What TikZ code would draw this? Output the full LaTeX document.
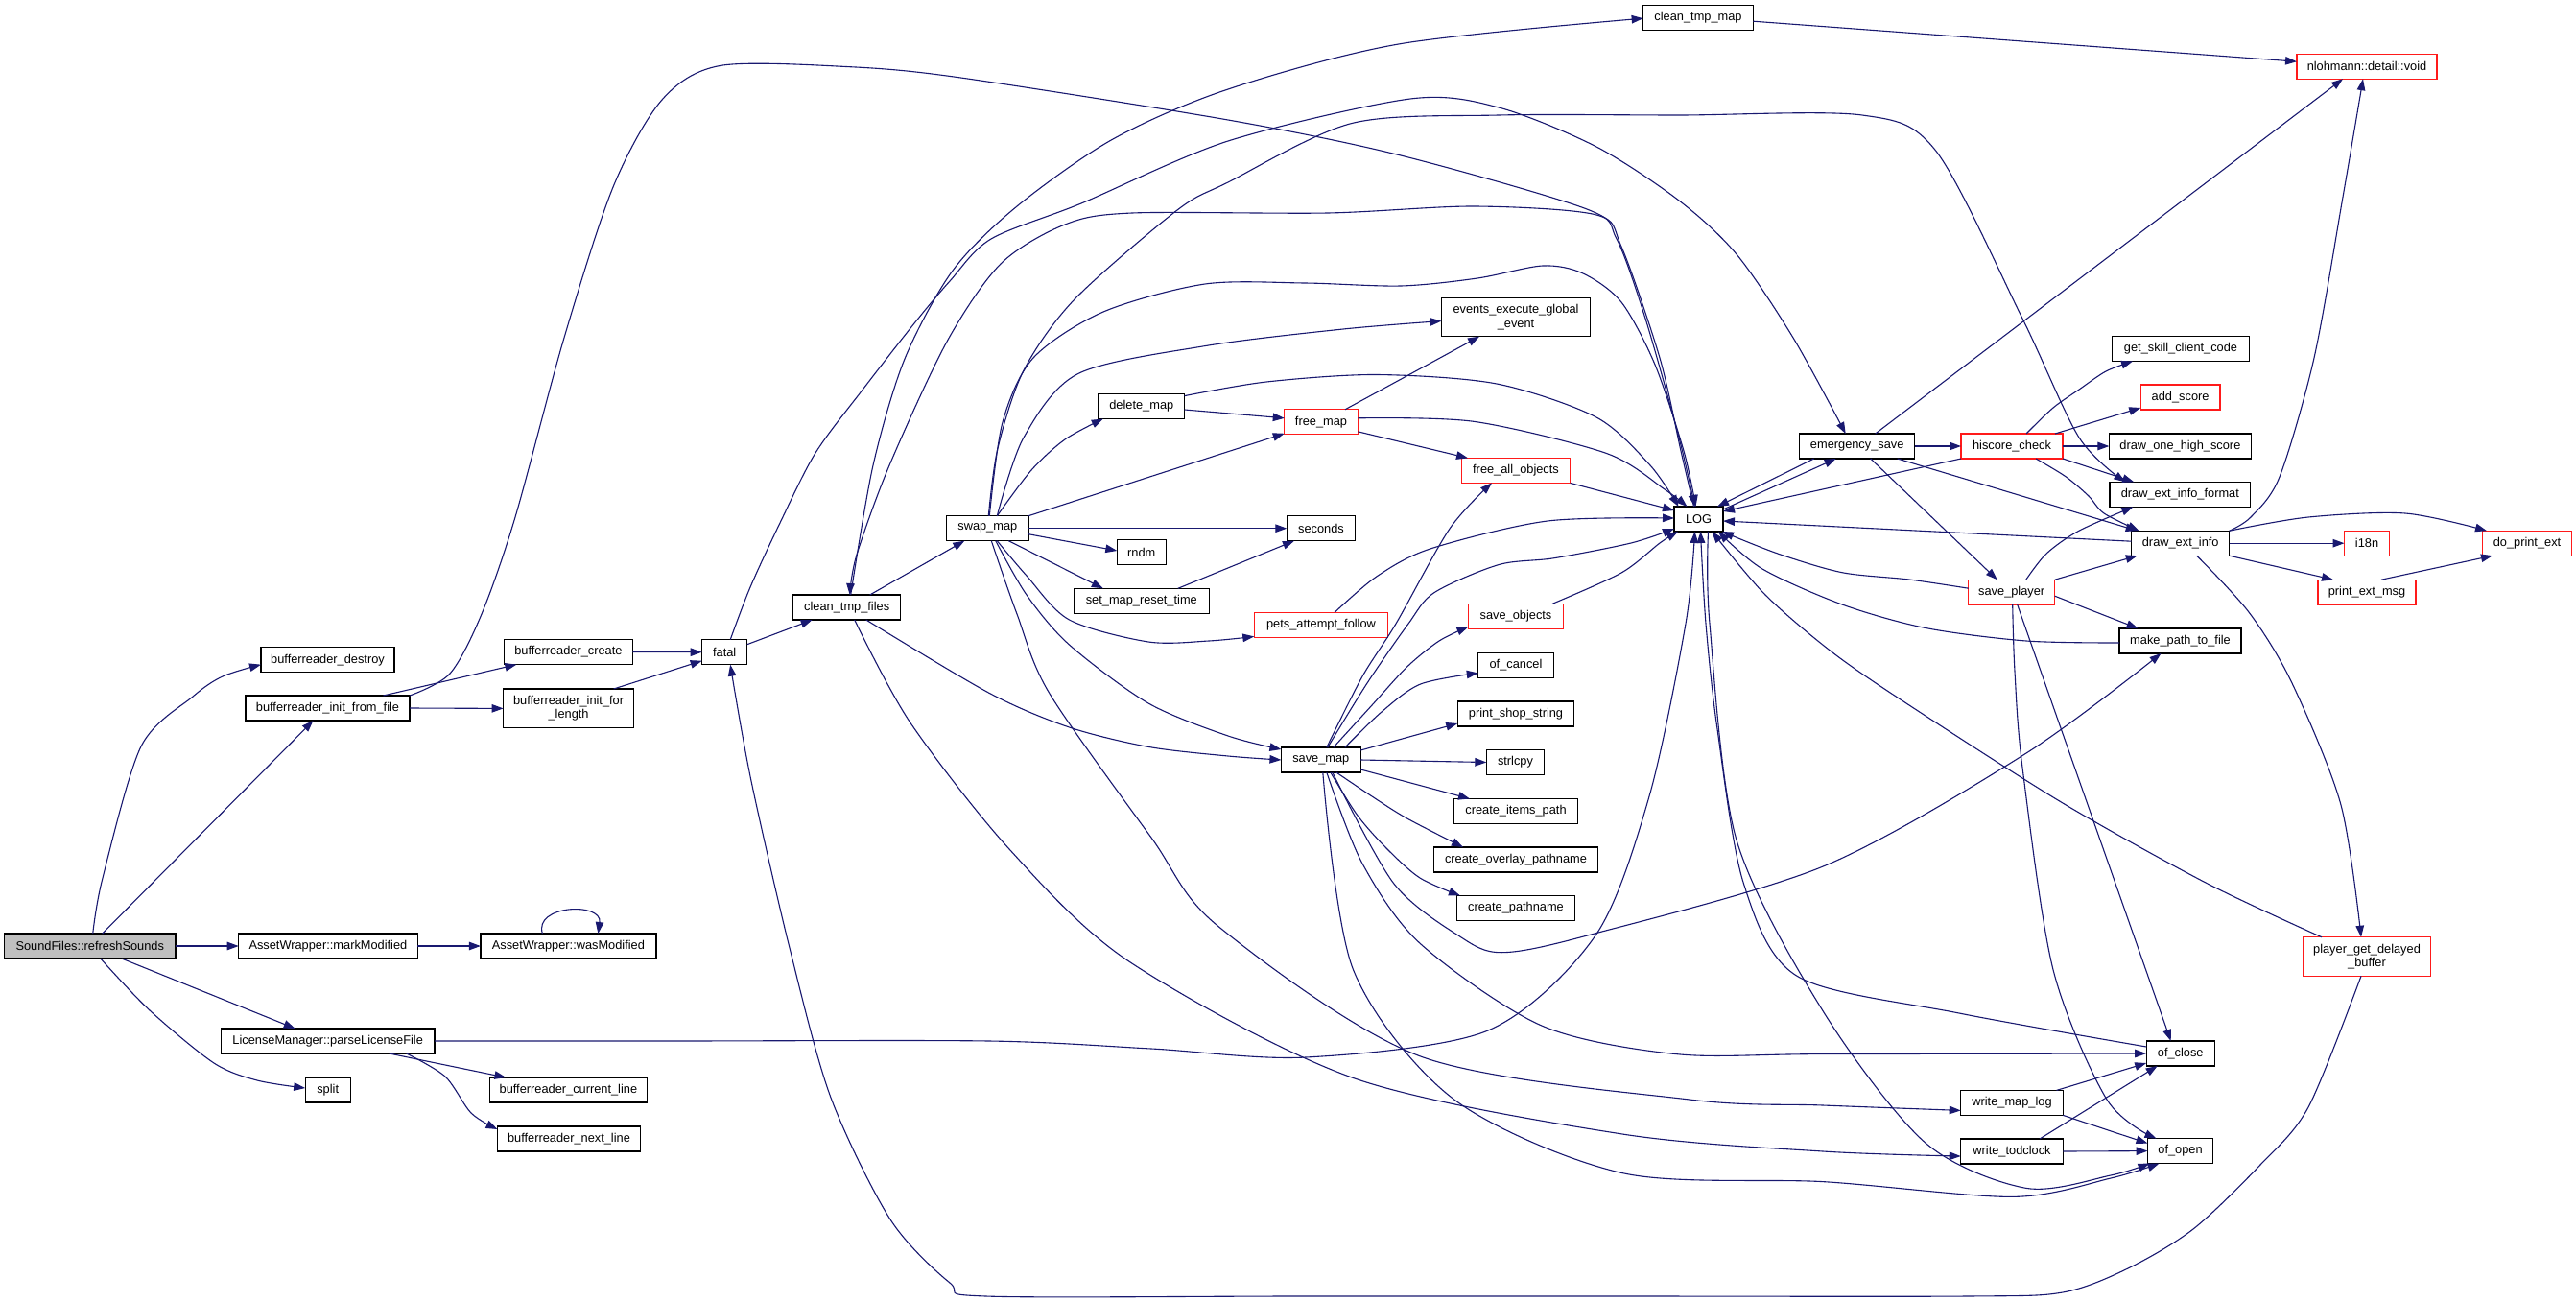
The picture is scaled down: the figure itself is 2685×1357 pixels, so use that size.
\documentclass[tikz,border=0pt]{standalone}
\usepackage{fontspec}
\setmainfont{Liberation Sans}
\usetikzlibrary{arrows.meta}
\definecolor{edgec}{HTML}{191970}
\definecolor{redc}{HTML}{FF1A1A}
\definecolor{grayc}{HTML}{BFBFBF}
\tikzset{
  nb/.style={draw=black, fill=white, line width=1.2pt, minimum height=26, inner sep=0pt, outer sep=0pt,
    font=\fontsize{12.8}{14.5}\selectfont, align=center},
  nr/.style={nb, draw=redc},
  e/.style={draw=edgec, line width=1.1pt, -{Triangle[length=12pt,width=8.5pt]}},
}
\begin{document}
\begin{tikzpicture}[x=1pt,y=-1pt]
\fill[white] (0,0) rectangle (2685,1357);
\useasboundingbox (0,0) rectangle (2685,1357);
% nodes
\node[nb, fill=grayc, minimum width=178.5] (rs) at (93.75,986) {SoundFiles::refreshSounds};
\node[nb, minimum width=139] (bd) at (341.5,687.7) {bufferreader\_destroy};
\node[nb, minimum width=171] (bif) at (341.5,738) {bufferreader\_init\_from\_file};
\node[nb, minimum width=134] (bc) at (592.4,679.6) {bufferreader\_create};
\node[nb, minimum width=136, minimum height=40.8] (bifl) at (592.6,738.4) {bufferreader\_init\_for\\\_length};
\node[nb, minimum width=186.4] (mm) at (341.9,986) {AssetWrapper::markModified};
\node[nb, minimum width=183] (wm) at (592.4,986) {AssetWrapper::wasModified};
\node[nb, minimum width=222.6] (lm) at (341.7,1085) {LicenseManager::parseLicenseFile};
\node[nb, minimum width=47] (sp) at (341.7,1136) {split};
\node[nb, minimum width=164.5] (bcl) at (592.4,1136) {bufferreader\_current\_line};
\node[nb, minimum width=149] (bnl) at (593,1187) {bufferreader\_next\_line};
\node[nb, minimum width=47] (fatal) at (755.2,679.7) {fatal};
\node[nb, minimum width=112] (ctf) at (882.7,633) {clean\_tmp\_files};
\node[nb, minimum width=85.3] (swm) at (1029.3,550.7) {swap\_map};
\node[nb, minimum width=114.7] (ctm) at (1770,18.2) {clean\_tmp\_map};
\node[nb, minimum width=89.8] (dm) at (1189.8,423.6) {delete\_map};
\node[nr, minimum width=76.5] (fm) at (1377,439.8) {free\_map};
\node[nb, minimum width=155, minimum height=40.2] (eeg) at (1580,330.6) {events\_execute\_global\\\_event};
\node[nr, minimum width=113.2] (fao) at (1580,490.4) {free\_all\_objects};
\node[nb, minimum width=71.5] (sec) at (1377,550.7) {seconds};
\node[nb, minimum width=51] (rndm) at (1189.8,575.5) {rndm};
\node[nb, minimum width=140.8] (smrt) at (1189.8,626.3) {set\_map\_reset\_time};
\node[nr, minimum width=139.4] (paf) at (1377,651.4) {pets\_attempt\_follow};
\node[nr, minimum width=99] (so) at (1580,642.3) {save\_objects};
\node[nb, minimum width=51] (log) at (1770.5,541) {LOG};
\node[nb, minimum width=82.8] (smap) at (1376.8,792) {save\_map};
\node[nb, minimum width=78.5] (oc) at (1580,693.5) {of\_cancel};
\node[nb, minimum width=121.5] (pss) at (1580,744) {print\_shop\_string};
\node[nb, minimum width=60.4] (strl) at (1579.5,794.5) {strlcpy};
\node[nb, minimum width=128.3] (cip) at (1580,845.5) {create\_items\_path};
\node[nb, minimum width=170.4] (cop) at (1580,896) {create\_overlay\_pathname};
\node[nb, minimum width=122.7] (cp) at (1580,946.5) {create\_pathname};
\node[nb, minimum width=120] (es) at (1935.7,465) {emergency\_save};
\node[nr, minimum width=106] (hc) at (2097,465) {hiscore\_check};
\node[nr, minimum width=90] (spl) at (2096.7,617.2) {save\_player};
\node[nb, minimum width=106.6] (wml) at (2097,1149.4) {write\_map\_log};
\node[nb, minimum width=106.6] (wtc) at (2097,1200) {write\_todclock};
\node[nr, minimum width=146] (nl) at (2467,69.2) {nlohmann::detail::void};
\node[nb, minimum width=143] (gscc) at (2273,363.5) {get\_skill\_client\_code};
\node[nr, minimum width=82.8] (as) at (2272.6,414) {add\_score};
\node[nb, minimum width=148] (dohs) at (2272.4,465) {draw\_one\_high\_score};
\node[nb, minimum width=146.7] (deif) at (2272.3,515.4) {draw\_ext\_info\_format};
\node[nb, minimum width=102] (dei) at (2272.7,566.2) {draw\_ext\_info};
\node[nb, minimum width=127] (mptf) at (2272.5,668) {make\_path\_to\_file};
\node[nb, minimum width=71] (ocl) at (2272.7,1098) {of\_close};
\node[nb, minimum width=68] (oo) at (2272.5,1199.6) {of\_open};
\node[nr, minimum width=47] (i18n) at (2467,566.2) {i18n};
\node[nr, minimum width=102] (pem) at (2467,617.2) {print\_ext\_msg};
\node[nr, minimum width=92.4] (dpe) at (2634,566.2) {do\_print\_ext};
\node[nr, minimum width=132.5, minimum height=40.5] (pgdb) at (2467,997) {player\_get\_delayed\\\_buffer};
% edges
\draw[e] plot[smooth] coordinates {([xshift=3]rs.north) (107,915) (147,778) (201,726) (232,705) ([yshift=-5]bd.west)};
\draw[e] ([xshift=13]rs.north) -- ([xshift=-15]bif.south);
\draw[e] (rs.east) -- (mm.west);
\draw[e] ([xshift=33]rs.south) -- ([xshift=-34]lm.north);
\draw[e] plot[smooth] coordinates {([xshift=11]rs.south) (156,1053) (223,1108) (268,1126) ([yshift=2]sp.west)};
\draw[e] ([xshift=58]bif.north) -- ([xshift=-54]bc.south);
\draw[e] (bif.east) -- (bifl.west);
\draw[e] plot[smooth] coordinates {(bif.north east) (469,702) (502,640) (537,539) (588,352) (639,195) (690,104) (751,68.4) (884,69.6) (1000,80.8) (1280,125) (1460,162) (1654,218) (1685,249) (1715,332) (1750,456) ([xshift=-4]log.north)};
\draw[e] (bc.east) -- (fatal.west);
\draw[e] ([xshift=47]bifl.north) -- ([yshift=-9]fatal.west);
\draw[e] (mm.east) -- (wm.west);
\draw[e] ([xshift=-27]wm.north) .. controls (556,943) and (628,940) .. ([xshift=31]wm.north);
\draw[e] plot[smooth] coordinates {(lm.east) (700,1085) (1031,1085) (1200,1093) (1361,1102) (1551,1074) (1663,975) (1719,830) (1757,650) ([xshift=-4]log.south)};
\draw[e] ([xshift=64]lm.south) -- ([xshift=-65]bcl.north);
\draw[e] plot[smooth] coordinates {([xshift=82]lm.south) (464,1122) (491,1160) ([yshift=10]bnl.west)};
\draw[e] ([yshift=8]fatal.east) -- ([xshift=-36]ctf.south);
\draw[e] ([xshift=24]ctf.north) -- ([xshift=-24]swm.south);
\draw[e] plot[smooth] coordinates {([xshift=4]ctf.north) (910,485) (943,374) (993,282) (1060,215) (1160,145) (1280,93) (1460,45.6) ([yshift=-1]ctm.west)};
\draw[e] plot[smooth] coordinates {([xshift=-5]log.north) (1752,470) (1730,373) (1690,257) (1664,224) (1537,215) (1384,222) (1180,222) (1110,234) (1043,275) (987,356) (927,485) (893,578) ([xshift=3]ctf.north)};
\draw[e] plot[smooth] coordinates {([xshift=6]fatal.north) (782,612) (813,545) (850,472) (900,405) (953,337) (990,293) (1033,249) (1127,212) (1280,147) (1470,103) (1562,112) (1664,153) (1750,209) (1810,265) (1869,352) ([xshift=-12]es.north)};
\draw[e] plot[smooth] coordinates {([xshift=1]swm.north) (1040,467) (1067,386) (1120,312) (1227,219) (1280,190) (1409,128.5) (1562,120) (1750,120) (1941,120) (2018,157.5) (2108,332) (2167,456) ([xshift=-57]deif.north)};
\draw[e] plot[smooth] coordinates {([xshift=2]swm.north) (1045,440) (1077,373) (1150,325) (1256,296) (1360,295) (1460,298) (1540,290) (1608,277) (1650,285) (1690,315) (1725,380) (1755,470) ([xshift=-3]log.north)};
\draw[e] plot[smooth] coordinates {([xshift=10]swm.north) (1067,456) (1123.5,389.6) (1256,360.6) (1400,343) ([yshift=-4]eeg.west)};
\draw[e] plot[smooth] coordinates {([xshift=10]swm.north) (1075,490) (1110,458) ([xshift=-40]dm.south)};
\draw[e] (swm.north east) -- ([yshift=-12]fm.west);
\draw[e] (swm.east) -- (sec.west);
\draw[e] ([yshift=-6]swm.east) -- ([yshift=1.5]rndm.west);
\draw[e] ([xshift=22]swm.south) -- ([xshift=-40]smrt.north);
\draw[e] ([xshift=38]smrt.north) -- ([xshift=-28]sec.south);
\draw[e] plot[smooth] coordinates {([xshift=10]swm.south) (1070,600) (1114.5,646) (1197,669) (1260,668) ([yshift=-12]paf.west)};
\draw[e] plot[smooth] coordinates {([xshift=8.5]swm.south) (1070,620) (1114.5,672) (1197,733) (1280,767) ([yshift=11]smap.west)};
\draw[e] plot[smooth] coordinates {([xshift=20]ctf.south) (1031.6,722.6) (1114.5,758) (1197,778.4) (1280,788) (smap.west)};
\draw[e] plot[smooth] coordinates {([xshift=4]swm.south) (1060,640) (1093.8,722.6) (1200,873) (1270,965.6) (1480.6,1101) (1761,1146) (1900,1152) ([yshift=-8]wml.west)};
\draw[e] plot[smooth] coordinates {([xshift=8]ctf.south) (948.7,753) (1052,885) (1176.7,1002) (1410.5,1123.5) (1691,1182) (1900,1200) ([yshift=-5]wtc.west)};
\draw[e] ([yshift=-3.4]dm.east) -- ([yshift=4]fm.west);
\draw[e] plot[smooth] coordinates {([yshift=11]dm.east) (1320,398) (1434.7,390.5) (1560,400) (1664,435) (1720,485) ([xshift=-21]log.north)};
\draw[e] plot[smooth] coordinates {([yshift=4]fm.east) (1536.7,439.4) (1674.5,472.5) (1735,510) ([xshift=-12]log.north)};
\draw[e] ([xshift=25]fm.north) -- ([xshift=-38]eeg.south);
\draw[e] ([yshift=-10]fm.east) -- ([xshift=-50]fao.north);
\draw[e] (fao.south east) -- ([yshift=9]log.west);
\draw[e] plot[smooth] coordinates {([xshift=14]paf.north) (1434.7,601) (1490.8,572) (1613,543) ([yshift=1]log.west)};
\draw[e] plot[smooth] coordinates {([xshift=38]so.north) (1690,597) (1730,566) ([xshift=4]log.south west)};
\draw[e] plot[smooth] coordinates {([xshift=7]smap.north) (1425,712) (1468,650) (1495,617.6) (1562,588.6) (1620,581.7) (1700,566) ([yshift=-10]log.west)};
\draw[e] plot[smooth] coordinates {([xshift=6]smap.north) (1420,705) (1455,650) (1511,551) ([xshift=-25]fao.south)};
\draw[e] plot[smooth] coordinates {([xshift=13]smap.north) (1430,735) (1466.6,695) (1500,668) ([yshift=-11]so.west)};
\draw[e] plot[smooth] coordinates {([xshift=25]smap.north) (1440,742) (1480.6,713) ([yshift=-8]oc.west)};
\draw[e] ([yshift=10]smap.east) -- ([yshift=-10]pss.west);
\draw[e] (smap.east) -- (strl.west);
\draw[e] ([yshift=-10]smap.east) -- ([xshift=-48]cip.north);
\draw[e] plot[smooth] coordinates {([xshift=16]smap.south) (1430,830) (1466.6,853) ([xshift=-55]cop.north)};
\draw[e] plot[smooth] coordinates {([xshift=10]smap.south) (1415,850) (1445.5,884.5) (1480,915) ([xshift=-58]cp.north)};
\draw[e] plot[smooth] coordinates {([xshift=12]smap.south) (1452.5,920.5) (1520,975) (1564.8,992.7) (1656,974.6) (1901.5,902.5) (2112,785) ([xshift=-20]mptf.south)};
\draw[e] plot[smooth] coordinates {([xshift=6]smap.south) (1420,900) (1480.6,983.7) (1606.9,1069) (1747,1098.6) (1900,1098.6) (ocl.west)};
\draw[e] plot[smooth] coordinates {([xshift=2]smap.south) (1410.5,1010.7) (1515.7,1146) (1691,1222.6) (1901.5,1231.7) (2098,1247.4) (2200,1228) ([xshift=-22]oo.south)};
\draw[e] plot[smooth] coordinates {([yshift=7]ocl.west) (2042,1056) (1873.4,1017.5) (1817.3,920.5) (1790,760) (1778,650) ([xshift=2]log.south)};
\draw[e] plot[smooth] coordinates {([xshift=10]log.south) (1782,650) (1810,875.5) (1901.5,1056) (2006.7,1191) (2112,1238.4) (2200,1225) ([xshift=-32]oo.south)};
\draw[e] ([xshift=46.5]wml.north) -- ([yshift=-10]ocl.west);
\draw[e] (wml.south east) -- ([yshift=8]oo.west);
\draw[e] ([xshift=29]wtc.north) -- ([xshift=-24]ocl.south);
\draw[e] (wtc.east) -- (oo.west);
\draw[e] ([xshift=6]spl.south) -- ([xshift=-10]ocl.north);
\draw[e] plot[smooth] coordinates {([xshift=1]spl.south) (2100,700) (2108,800) (2140,1010.7) (2196,1146) ([xshift=-25]oo.north)};
\draw[e] ([yshift=-4]spl.east) -- ([xshift=-44]mptf.north);
\draw[e] (spl.north east) -- ([xshift=-45]dei.south);
\draw[e] plot[smooth] coordinates {([xshift=15]spl.north) (2133,577) (2166.7,553.3) ([xshift=-49]deif.south)};
\draw[e] plot[smooth] coordinates {([yshift=4]spl.west) (1990,604) (1920,596.7) (1853,577) ([xshift=-1]log.south east)};
\draw[e] plot[smooth] coordinates {([yshift=-2]mptf.west) (2112,668) (2007,654.5) (1920,630) (1837,593) ([xshift=-5]log.south east)};
\draw[e] plot[smooth] coordinates {([xshift=-47]pgdb.north) (2300,920.5) (2150,837) (1990,735) (1910,680) (1840,620) ([xshift=14]log.south)};
\draw[e] ([yshift=2]dei.west) -- ([yshift=-2]log.east);
\draw[e] (hc.south west) -- ([yshift=8]log.east);
\draw[e] ([xshift=-45]es.south) -- ([xshift=-6]log.north east);
\draw[e] ([yshift=10]log.east) -- ([xshift=-22]es.south);
\draw[e] (es.east) -- (hc.west);
\draw[e] ([xshift=19]es.north) -- ([xshift=-25]nl.south);
\draw[e] ([xshift=42]es.south) -- ([xshift=-45]dei.north);
\draw[e] ([xshift=14]es.south) -- ([xshift=-15]spl.north);
\draw[e] plot[smooth] coordinates {([xshift=15]hc.north) (2140,425) (2167,406) (2195,387) ([xshift=-50]gscc.south)};
\draw[e] ([xshift=45]hc.north) -- ([yshift=-11]as.west);
\draw[e] (hc.east) -- (dohs.west);
\draw[e] (hc.south east) -- ([xshift=-48]deif.north);
\draw[e] plot[smooth] coordinates {([xshift=25]hc.south) (2153,496.7) (2176.7,516.7) (2193,535) ([xshift=-43]dei.north)};
\draw[e] (dei.east) -- (i18n.west);
\draw[e] (dei.south east) -- ([xshift=-35]pem.north);
\draw[e] ([xshift=15]pem.north) -- ([xshift=-36]dpe.south);
\draw[e] plot[smooth] coordinates {(dei.north east) (2406,539) (2507,535) ([xshift=-42]dpe.north)};
\draw[e] plot[smooth] coordinates {(dei.north east) (2346,539) (2376,497) (2412,373) (2441.7,207) ([xshift=-4]nl.south)};
\draw[e] plot[smooth] coordinates {([xshift=17]dei.south) (2344.5,638.7) (2389,712) (2440,839) ([xshift=-6]pgdb.north)};
\draw[e] plot[smooth] coordinates {([xshift=-6]pgdb.south) (2406,1154) (2355,1215) (2286,1281) (2218,1322) (2150,1347) (2050,1351) (1700,1351) (1350,1351) (1027.5,1351) (990,1337) (928,1271) (866,1144) (824,992) (783,814) ([xshift=6]fatal.south)};
\draw[e] ([yshift=-4]ctm.east) -- ([yshift=5]nl.west);
\end{tikzpicture}
\end{document}
